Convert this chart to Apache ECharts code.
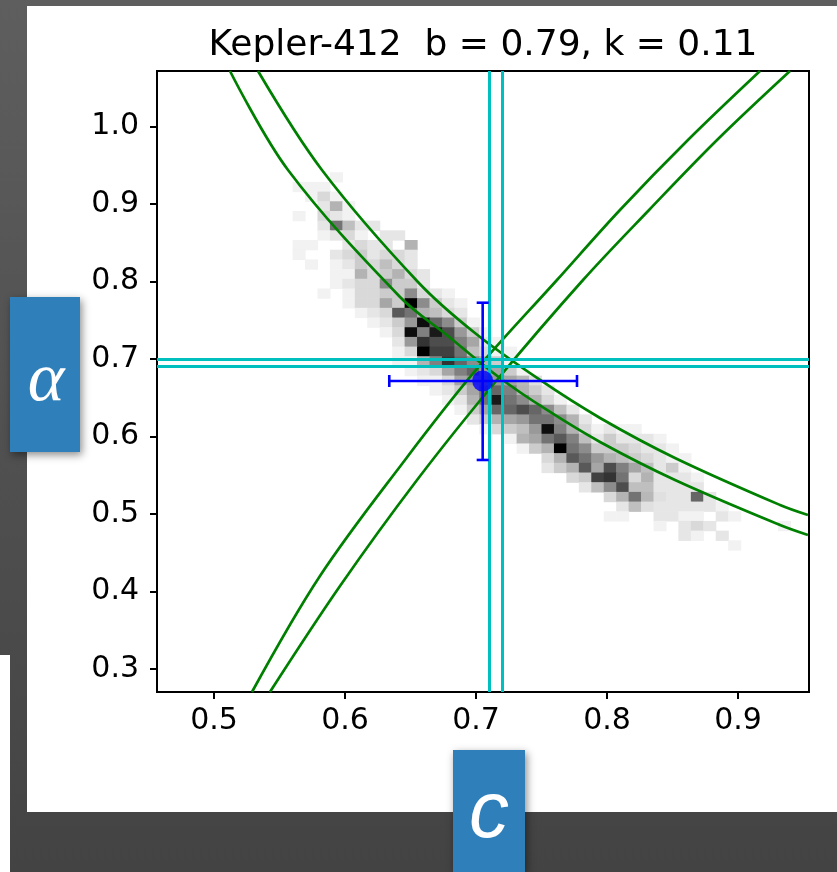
<!DOCTYPE html>
<html>
<head>
<meta charset="utf-8">
<script src="https://cdn.jsdelivr.net/npm/echarts@6/dist/echarts.min.js"></script>
<style>
  html, body { margin: 0; padding: 0; }
  #chart { width: 837px; height: 872px; }
</style>
</head>
<body>
<div id="chart"></div>
<script>
// axis ticks
const xTicks = [0.5, 0.6, 0.7, 0.8, 0.9];
const yTicks = [0.3, 0.4, 0.5, 0.6, 0.7, 0.8, 0.9, 1.0];

// 2d histogram of samples: bin grid + [col, row, shade 0..1]
const binX0 = 0.560, binW = 0.0095;
const binY0 = 0.4535, binH = 0.0125;
const histCells = [
  [3,38,.05],
  [0,37,.05],[1,37,.05],[2,37,.05],
  [1,36,.05],[2,36,.15],[3,36,.05],
  [2,35,.1],[3,35,.3],[4,35,.05],
  [0,34,.05],[2,34,.15],[3,34,.1],[4,34,.05],
  [2,33,.1],[3,33,.55],[4,33,.25],[5,33,.1],[6,33,.1],
  [2,32,.05],[3,32,.1],[4,32,.15],[5,32,.05],[7,32,.1],[8,32,.1],
  [0,31,.05],[1,31,.05],[4,31,.1],[5,31,.15],[6,31,.1],[7,31,.1],[9,31,.3],
  [0,30,.05],[3,30,.1],[4,30,.15],[5,30,.2],[6,30,.1],[7,30,.15],[8,30,.15],[9,30,.1],
  [1,29,.05],[3,29,.05],[4,29,.1],[5,29,.2],[6,29,.15],[7,29,.25],[8,29,.15],[9,29,.1],
  [3,28,.05],[4,28,.05],[5,28,.3],[6,28,.15],[7,28,.2],[8,28,.3],[9,28,.15],[10,28,.1],
  [3,27,.05],[4,27,.1],[5,27,.15],[6,27,.15],[7,27,.45],[8,27,.2],[9,27,.2],[10,27,.1],
  [2,26,.05],[4,26,.05],[5,26,.15],[6,26,.15],[7,26,.2],[8,26,.2],[9,26,.45],[10,26,.15],[11,26,.1],[12,26,.05],
  [4,25,.05],[5,25,.15],[6,25,.15],[7,25,.35],[8,25,.2],[9,25,1],[10,25,.45],[11,25,.2],[12,25,.1],[13,25,.05],
  [5,24,.05],[6,24,.1],[7,24,.15],[8,24,.65],[9,24,.55],[10,24,.3],[11,24,.25],[12,24,.15],[13,24,.1],
  [6,23,.05],[7,23,.1],[8,23,.2],[9,23,.4],[10,23,.95],[11,23,.6],[12,23,.45],[13,23,.2],[14,23,.05],
  [7,22,.05],[8,22,.15],[9,22,.95],[10,22,.5],[11,22,.9],[12,22,.7],[13,22,.4],[14,22,.2],[15,22,.05],
  [8,21,.1],[9,21,.4],[10,21,.8],[11,21,.7],[12,21,.7],[13,21,.5],[14,21,.35],[15,21,.1],[16,21,.05],
  [8,20,.05],[9,20,.15],[10,20,1],[11,20,.75],[12,20,.75],[13,20,.55],[14,20,.25],[15,20,.15],[16,20,.05],[17,20,.05],
  [8,19,.05],[9,19,.05],[10,19,.3],[11,19,.5],[12,19,.8],[13,19,.6],[14,19,.45],[15,19,.3],[16,19,.2],[17,19,.05],
  [9,18,.05],[10,18,.1],[11,18,.15],[12,18,.35],[13,18,.5],[14,18,.6],[15,18,.4],[16,18,.35],[17,18,.2],[18,18,.05],
  [10,17,.05],[11,17,.05],[12,17,.15],[13,17,.35],[14,17,.4],[15,17,.45],[16,17,.4],[17,17,.35],[18,17,.28],[19,17,.12],
  [11,16,.05],[12,16,.1],[13,16,.2],[14,16,.35],[15,16,.55],[16,16,.6],[17,16,.5],[18,16,.3],[19,16,.2],[20,16,.1],
  [12,15,.05],[13,15,.1],[14,15,.3],[15,15,.55],[16,15,.9],[17,15,.55],[18,15,.45],[19,15,.3],[20,15,.15],[21,15,.05],
  [13,14,.05],[14,14,.2],[15,14,.35],[16,14,.6],[17,14,.6],[18,14,.7],[19,14,.6],[20,14,.45],[21,14,.25],[22,14,.1],
  [14,13,.1],[15,13,.2],[16,13,.3],[17,13,.35],[18,13,.4],[19,13,.55],[20,13,.55],[21,13,.45],[22,13,.3],[23,13,.1],
  [15,12,.05],[16,12,.15],[17,12,.2],[18,12,.25],[19,12,.4],[20,12,.95],[21,12,.5],[22,12,.3],[23,12,.15],[24,12,.05],[25,12,.1],[26,12,.05],[27,12,.05],
  [17,11,.05],[18,11,.3],[19,11,.35],[20,11,.55],[21,11,.65],[22,11,.5],[23,11,.25],[24,11,.1],[25,11,.2],[26,11,.1],[27,11,.1],[28,11,.1],[29,11,.05],
  [18,10,.05],[19,10,.2],[20,10,.3],[21,10,1],[22,10,.55],[23,10,.45],[24,10,.2],[25,10,.2],[26,10,.2],[27,10,.15],[28,10,.1],[29,10,.1],[30,10,.05],
  [20,9,.15],[21,9,.3],[22,9,.65],[23,9,.55],[24,9,.4],[25,9,.3],[26,9,.25],[27,9,.2],[28,9,.15],[29,9,.1],[30,9,.05],[31,9,.05],
  [20,8,.1],[21,8,.2],[22,8,.3],[23,8,.65],[24,8,.35],[25,8,.7],[26,8,.5],[27,8,.35],[28,8,.25],[29,8,.1],[30,8,.2],[31,8,.05],
  [22,7,.15],[23,7,.2],[24,7,.75],[25,7,.8],[26,7,.55],[27,7,.15],[28,7,.3],[29,7,.1],[30,7,.1],[31,7,.1],[32,7,.05],
  [23,6,.1],[24,6,.25],[25,6,.45],[26,6,.7],[27,6,.25],[28,6,.25],[29,6,.1],[30,6,.1],[31,6,.1],[32,6,.1],
  [25,5,.15],[26,5,.3],[27,5,.55],[28,5,.28],[29,5,.12],[30,5,.1],[31,5,.1],[32,5,.6],[33,5,.1],
  [26,4,.1],[27,4,.25],[28,4,.12],[29,4,.1],[30,4,.1],[31,4,.1],[32,4,.1],[33,4,.1],[34,4,.05],
  [25,3,.05],[26,3,.05],[29,3,.1],[30,3,.1],[31,3,.05],[32,3,.05],[34,3,.1],[35,3,.05],
  [29,2,.05],[31,2,.1],[32,2,.15],[33,2,.1],[39,2,.05],
  [31,1,.1],[32,1,.05],[34,1,.1],
  [35,0,.05]
];

// green constraint curves
const curveL1 = [[0.5122,1.0716],[0.5565,0.9439],[0.6420,0.7800],[0.6786,0.7297],[0.7183,0.6755],[0.7542,0.6342],[0.7947,0.5929],[0.8519,0.5439],[0.9321,0.4858],[0.9534,0.4729]];
const curveL2 = [[0.5336,1.0716],[0.5824,0.9439],[0.6557,0.7994],[0.6992,0.7335],[0.7489,0.6729],[0.7947,0.6239],[0.8519,0.5723],[0.9321,0.5116],[0.9534,0.4987]];
const curveR1 = [[0.5290,0.2703],[0.5809,0.4200],[0.6458,0.5697],[0.7000,0.6858],[0.7618,0.8019],[0.8099,0.8923],[0.8618,0.9826],[0.9168,1.0716]];
const curveR2 = [[0.5427,0.2703],[0.5962,0.4071],[0.6550,0.5439],[0.7160,0.6729],[0.7817,0.8019],[0.8321,0.8923],[0.8840,0.9826],[0.9397,1.0716]];

// cyan reference lines
const cyanX = [0.7107, 0.7214];
const cyanY = [0.7000, 0.6893];

// estimate with errors: [x, y, xlo, xhi, ylo, yhi]
const estimate = [[0.7051, 0.6716, 0.6338, 0.7771, 0.5697, 0.7726]];

const histData = histCells.map(c => [binX0 + (c[0] + 0.5) * binW, binY0 + (c[1] + 0.5) * binH, c[2]]);

const chart = echarts.init(document.getElementById('chart'));

function greenLine(data) {
  return {
    type: 'line', data: data, symbol: 'none', smooth: 0.35,
    lineStyle: { color: '#008000', width: 2.7 }, z: 3, silent: true, clip: true
  };
}

const option = {
  animation: false,
  backgroundColor: {
    type: 'linear', x: 0, y: 0, x2: 0, y2: 1,
    colorStops: [{ offset: 0, color: '#5e5e5e' }, { offset: 1, color: '#434343' }]
  },
  graphic: [
    { type: 'rect', z: -5, shape: { x: 27, y: 6, width: 810, height: 806 }, style: { fill: '#fff' } },
    { type: 'rect', z: -5, shape: { x: 0, y: 655, width: 10, height: 217 }, style: { fill: '#fff' } },
    {
      type: 'text', z: 10, style: {
        text: 'Kepler-412  b = 0.79, k = 0.11', x: 483, y: 46,
        textAlign: 'center', textVerticalAlign: 'middle',
        font: '36px "DejaVu Sans"', fill: '#000'
      }
    },
    {
      type: 'rect', z: 50, shape: { x: 10, y: 297, width: 70, height: 155 },
      style: { fill: '#2e7fba', shadowBlur: 8, shadowColor: 'rgba(0,0,0,0.45)', shadowOffsetX: 2, shadowOffsetY: 3 }
    },
    {
      type: 'text', z: 51, style: {
        text: 'α', x: 46, y: 382, textAlign: 'center', textVerticalAlign: 'middle',
        font: 'italic 70px "Liberation Serif"', fill: '#fff',
        shadowBlur: 4, shadowColor: 'rgba(0,0,0,0.5)', shadowOffsetX: 1, shadowOffsetY: 2
      }
    },
    {
      type: 'rect', z: 50, shape: { x: 453, y: 750, width: 72, height: 122 },
      style: { fill: '#2e7fba', shadowBlur: 8, shadowColor: 'rgba(0,0,0,0.45)', shadowOffsetX: 2, shadowOffsetY: 3 }
    },
    {
      type: 'text', z: 51, style: {
        text: 'c', x: 489, y: 815, textAlign: 'center', textVerticalAlign: 'middle',
        font: 'italic 80px "Liberation Sans"', fill: '#fff',
        shadowBlur: 4, shadowColor: 'rgba(0,0,0,0.5)', shadowOffsetX: 1, shadowOffsetY: 2
      }
    }
  ],
  grid: {
    left: 157, top: 71, width: 652, height: 621,
    show: true, backgroundColor: '#fff', borderColor: '#000', borderWidth: 2
  },
  xAxis: {
    type: 'value', min: 0.4565, max: 0.9542,
    axisLine: { show: true, lineStyle: { color: '#000', width: 2 } },
    axisTick: { show: true, customValues: xTicks, length: 7, lineStyle: { color: '#000', width: 2 } },
    axisLabel: {
      customValues: xTicks, color: '#000', fontSize: 30, fontFamily: 'DejaVu Sans', margin: 14,
      formatter: v => v.toFixed(1)
    },
    splitLine: { show: false }
  },
  yAxis: {
    type: 'value', min: 0.2703, max: 1.0716,
    axisLine: { show: true, lineStyle: { color: '#000', width: 2 } },
    axisTick: { show: true, customValues: yTicks, length: 7, lineStyle: { color: '#000', width: 2 } },
    axisLabel: {
      customValues: yTicks, color: '#000', fontSize: 30, fontFamily: 'DejaVu Sans', margin: 18,
      formatter: v => v.toFixed(1)
    },
    splitLine: { show: false }
  },
  series: [
    {
      type: 'custom', data: histData, z: 1, silent: true, clip: true,
      renderItem: function (params, api) {
        const x = api.value(0), y = api.value(1), v = api.value(2);
        const p0 = api.coord([x - binW / 2, y + binH / 2]);
        const p1 = api.coord([x + binW / 2, y - binH / 2]);
        const g = Math.round(255 * (1 - v));
        return {
          type: 'rect',
          shape: { x: p0[0], y: p0[1], width: p1[0] - p0[0] + 0.6, height: p1[1] - p0[1] + 0.6 },
          style: { fill: 'rgb(' + g + ',' + g + ',' + g + ')' }
        };
      }
    },
    greenLine(curveL1),
    greenLine(curveL2),
    greenLine(curveR1),
    greenLine(curveR2),
    {
      type: 'line', data: [], z: 4, silent: true,
      markLine: {
        symbol: 'none', silent: true, label: { show: false },
        lineStyle: { color: '#00bfbf', width: 3, type: 'solid' },
        data: cyanX.map(v => ({ xAxis: v })).concat(cyanY.map(v => ({ yAxis: v })))
      }
    },
    {
      type: 'custom', data: estimate, z: 5, silent: true,
      renderItem: function (params, api) {
        const c = api.coord([api.value(0), api.value(1)]);
        const l = api.coord([api.value(2), api.value(1)]);
        const r = api.coord([api.value(3), api.value(1)]);
        const b = api.coord([api.value(0), api.value(4)]);
        const t = api.coord([api.value(0), api.value(5)]);
        const cap = 6;
        const st = { stroke: '#0000ff', lineWidth: 2.6 };
        return {
          type: 'group', children: [
            { type: 'line', shape: { x1: l[0], y1: c[1], x2: r[0], y2: c[1] }, style: st },
            { type: 'line', shape: { x1: c[0], y1: b[1], x2: c[0], y2: t[1] }, style: st },
            { type: 'line', shape: { x1: l[0], y1: c[1] - cap, x2: l[0], y2: c[1] + cap }, style: st },
            { type: 'line', shape: { x1: r[0], y1: c[1] - cap, x2: r[0], y2: c[1] + cap }, style: st },
            { type: 'line', shape: { x1: c[0] - cap, y1: t[1], x2: c[0] + cap, y2: t[1] }, style: st },
            { type: 'line', shape: { x1: c[0] - cap, y1: b[1], x2: c[0] + cap, y2: b[1] }, style: st }
          ]
        };
      }
    },
    {
      type: 'scatter', data: estimate.map(e => [e[0], e[1]]), z: 6, silent: true,
      symbol: 'circle', symbolSize: 21, itemStyle: { color: '#0000ff' }
    }
  ]
};

chart.setOption(option);
</script>
</body>
</html>
